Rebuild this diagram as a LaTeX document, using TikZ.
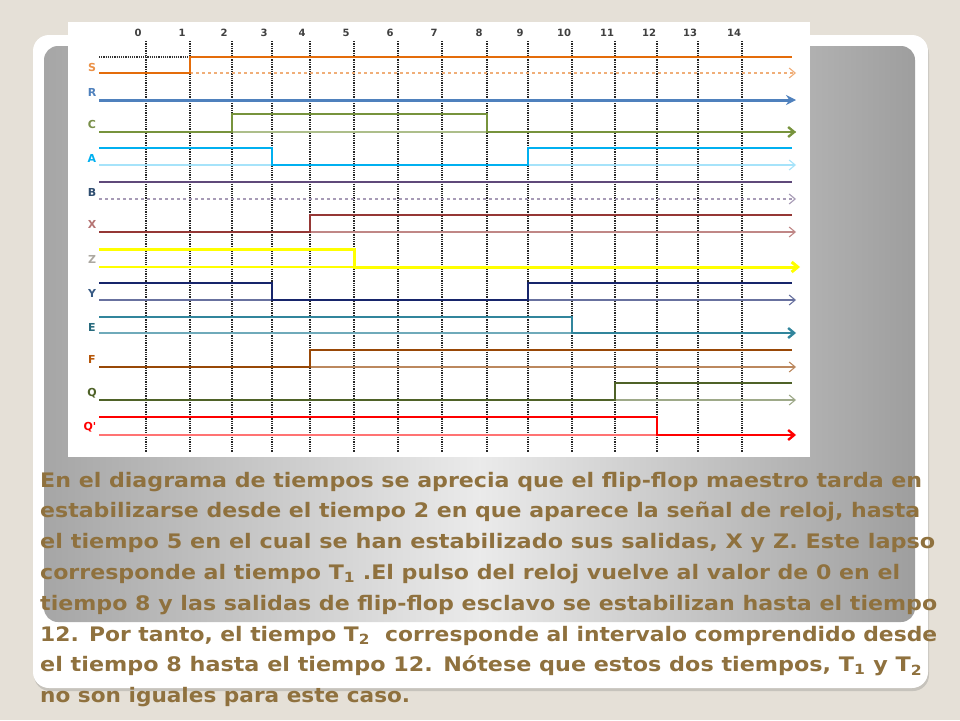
\documentclass[tikz,border=0pt]{standalone}
\usepackage{fontspec}
\usepackage{graphicx}
\usetikzlibrary{arrows.meta,shadows}
\newfontfamily\labelfont{DejaVu Sans}
\newfontfamily\notefont{DejaVu Sans}
\definecolor{pageBeige}{HTML}{E5E0D7}
\definecolor{noteBrown}{HTML}{8F713E}
\definecolor{sCol}{HTML}{E46C0A}
\definecolor{rCol}{HTML}{4F81BD}
\definecolor{cCol}{HTML}{77933C}
\definecolor{aCol}{HTML}{00B0F0}
\definecolor{bCol}{HTML}{5F497A}
\definecolor{xCol}{HTML}{953735}
\definecolor{zCol}{HTML}{FFFF00}
\definecolor{yCol}{HTML}{17256B}
\definecolor{eCol}{HTML}{31859C}
\definecolor{fCol}{HTML}{984807}
\definecolor{qCol}{HTML}{4F6228}
\definecolor{qpCol}{HTML}{FF0000}
\begin{document}
\begin{tikzpicture}[x=1pt,y=-1pt,
    wave/.style={line width=2.4pt},
    base/.style={line width=1.1pt},
    timeline/.style={densely dotted,line width=1.3pt,black!85},
    opentip/.style={-{Straight Barb[length=6pt,width=10pt]}},
    siglabel/.style={font=\labelfont\bfseries\fontsize{11}{11}\selectfont},
    notetext/.style={anchor=west,inner sep=0pt,text=noteBrown,
      font=\notefont\bfseries\fontsize{20}{20}\selectfont}]

    % Page and slide card
    \fill[pageBeige] (0,0) rectangle (960,720);
    \useasboundingbox (0,0) rectangle (960,720);
    \fill[white,rounded corners=16pt,drop shadow={opacity=0.3,shadow xshift=1pt,shadow yshift=-3pt}]
        (33,35) rectangle (928,688);
    \shade[rounded corners=14pt,left color=black!35,right color=black!38,middle color=black!8]
        (44,46) rectangle (915,622);

    % Chart sheet
    \fill[white] (68,22) rectangle (810,457);

    % Time marks
    \foreach \i/\x in {0/146,1/190,2/232,3/272,4/310,5/354,6/398,7/442,8/487,9/528,10/572,11/615,12/657,13/698,14/742}{
        \draw[timeline] (\x,41) -- (\x,452);
        \node[font=\labelfont\bfseries\fontsize{10}{10}\selectfont,text=black!75] (time\i) at (\x-8,33) {\i};
    }

    % S
    \draw[densely dotted,line width=1.2pt,black!80] (99,57) -- (190,57);
    \draw[base,dashed,sCol!55,opentip] (190,73) -- (796,73);
    \draw[wave,sCol] (99,73) -- (190,73) -- (190,57) -- (792,57);
    \node[siglabel,text=sCol!75] (labS) at (92,67) {S};

    % R
    \draw[line width=3pt,rCol,-{Stealth[length=10pt,width=10pt]}] (99,100) -- (796,100);
    \node[siglabel,text=rCol] (labR) at (92,92) {R};

    % C
    \draw[base,cCol!60] (99,132) -- (796,132);
    \draw[wave,cCol,opentip] (99,132) -- (232,132) -- (232,114) -- (487,114) -- (487,132) -- (796,132);
    \node[siglabel,text=cCol!80!gray] (labC) at (92,124) {C};

    % A
    \draw[base,aCol!35,opentip] (99,165) -- (796,165);
    \draw[wave,aCol] (99,148) -- (272,148) -- (272,165) -- (528,165) -- (528,148) -- (792,148);
    \node[siglabel,text=aCol] (labA) at (92,158) {A};

    % B
    \draw[line width=1.6pt,bCol] (99,182) -- (792,182);
    \draw[base,dashed,bCol!55,opentip] (99,199) -- (796,199);
    \node[siglabel,text=rCol!60!black] (labB) at (92,192) {B};

    % X
    \draw[base,xCol!60,opentip] (99,232) -- (796,232);
    \draw[wave,xCol] (99,232) -- (310,232) -- (310,215) -- (792,215);
    \node[siglabel,text=xCol!70] (labX) at (92,224) {X};

    % Z
    \draw[base,zCol] (99,267) -- (354,267);
    \draw[wave,line width=3pt,zCol,opentip] (99,249) -- (354,249) -- (354,267) -- (800,267);
    \node[siglabel,text=black!25!pageBeige] (labZ) at (92,259) {Z};

    % Y
    \draw[base,yCol!65,opentip] (99,300) -- (796,300);
    \draw[wave,yCol] (99,283) -- (272,283) -- (272,300) -- (528,300) -- (528,283) -- (792,283);
    \node[siglabel,text=rCol!70!black] (labY) at (92,293) {Y};

    % E
    \draw[base,eCol!70] (99,333) -- (572,333);
    \draw[wave,eCol,opentip] (99,317) -- (572,317) -- (572,333) -- (796,333);
    \node[siglabel,text=eCol!80!black] (labE) at (92,327) {E};

    % F
    \draw[base,fCol!65,opentip] (99,367) -- (796,367);
    \draw[wave,fCol] (99,367) -- (310,367) -- (310,350) -- (792,350);
    \node[siglabel,text=sCol!80!black] (labF) at (92,359) {F};

    % Q
    \draw[base,qCol!55,opentip] (99,400) -- (796,400);
    \draw[wave,qCol] (99,400) -- (615,400) -- (615,383) -- (792,383);
    \node[siglabel,text=qCol] (labQ) at (92,393) {Q};

    % Q'
    \draw[base,qpCol!55] (99,435) -- (657,435);
    \draw[wave,qpCol,opentip] (99,417) -- (657,417) -- (657,435) -- (796,435);
    \node[siglabel,text=qpCol] (labQn) at (90,427) {Q'};

    % Explanation
    \node[notetext] (note1) at (40,482) {\resizebox{882pt}{\height}{En el diagrama de tiempos se aprecia que el flip-flop maestro tarda en}};
    \node[notetext] (note2) at (40,512) {\resizebox{880pt}{\height}{estabilizarse desde el tiempo 2 en que aparece la señal de reloj, hasta}};
    \node[notetext] (note3) at (40,543) {\resizebox{895pt}{\height}{el tiempo 5 en el cual se han estabilizado sus salidas, X y Z. Este lapso}};
    \node[notetext] (note4) at (40,574) {\resizebox{860pt}{\height}{corresponde al tiempo T\textsubscript{1} .El pulso del reloj vuelve al valor de 0 en el}};
    \node[notetext] (note5) at (40,605) {\resizebox{897pt}{\height}{tiempo 8 y las salidas de flip-flop esclavo se estabilizan hasta el tiempo}};
    \node[notetext] (note6) at (40,636) {\resizebox{897pt}{\height}{12. Por tanto, el tiempo T\textsubscript{2}\ \ corresponde al intervalo comprendido desde}};
    \node[notetext] (note7) at (40,666) {\resizebox{882pt}{\height}{el tiempo 8 hasta el tiempo 12. Nótese que estos dos tiempos, T\textsubscript{1} y T\textsubscript{2}}};
    \node[notetext] (note8) at (40,697) {\resizebox{370pt}{\height}{no son iguales para este caso.}};
\end{tikzpicture}
\end{document}
